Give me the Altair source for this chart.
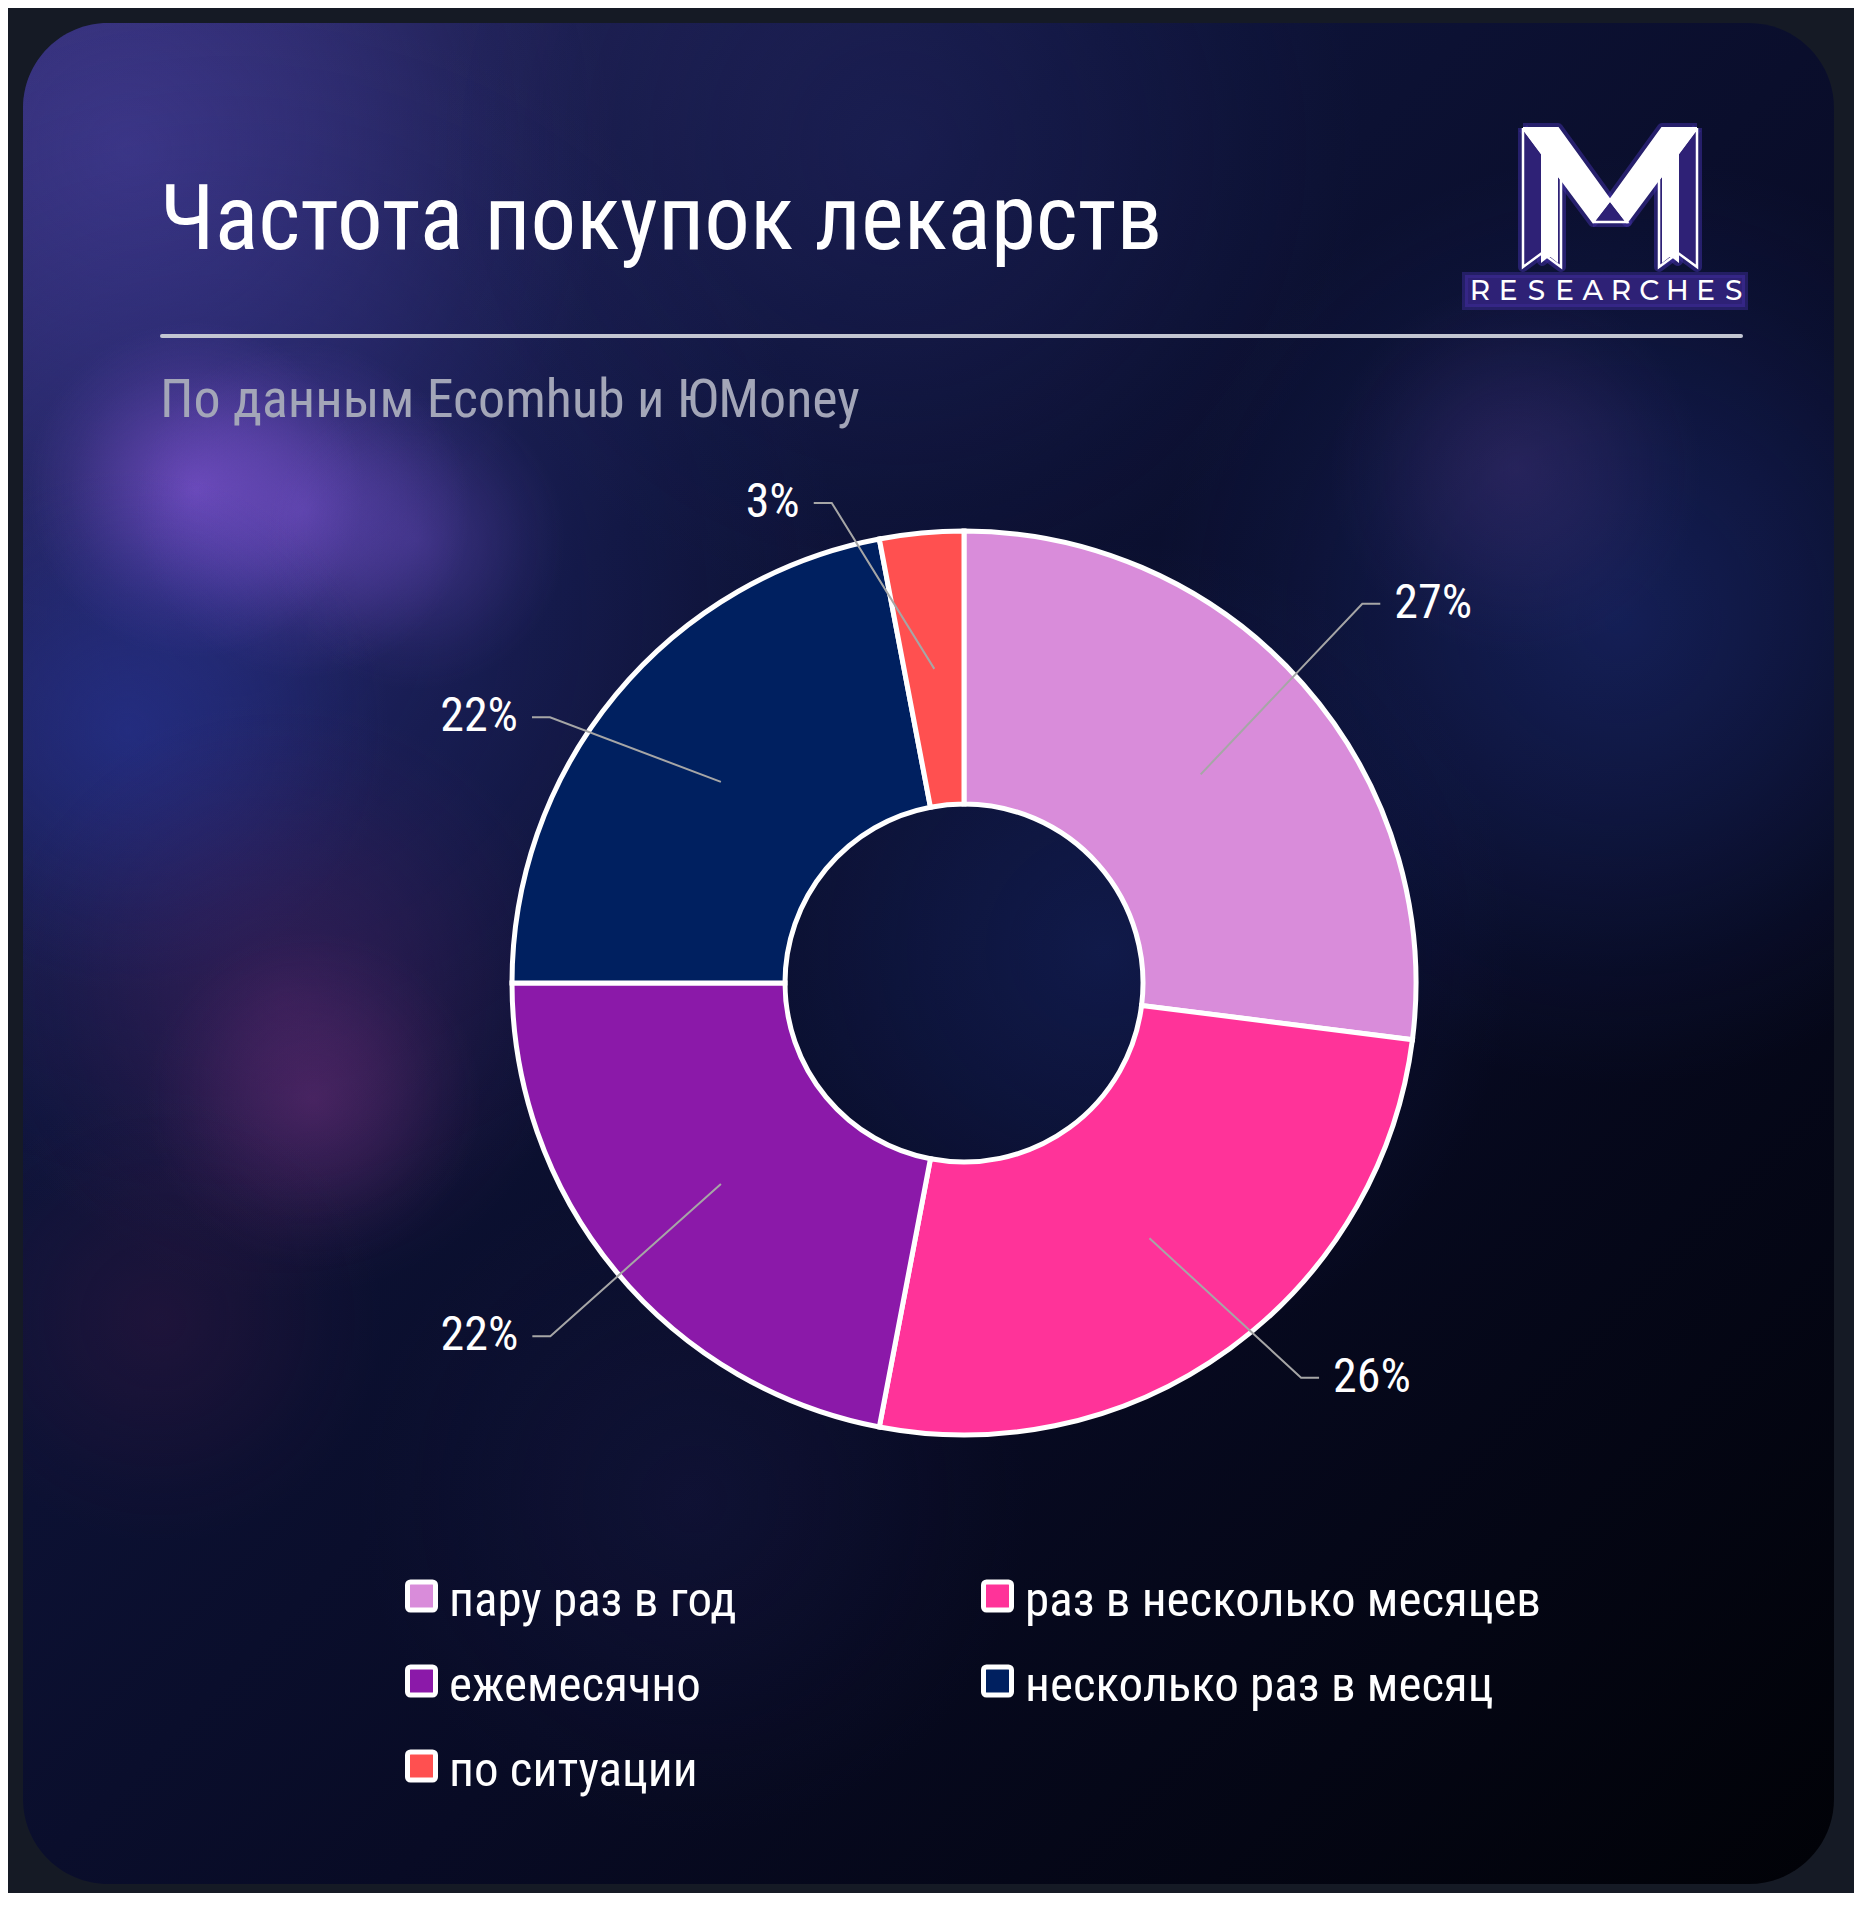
import math
import altair as alt
import pandas as pd

# ---------------- data ----------------
CATEGORIES = ["пару раз в год", "раз в несколько месяцев", "ежемесячно",
              "несколько раз в месяц", "по ситуации"]
VALUES = [27, 26, 22, 22, 3]
COLORS = ["#D98CDA", "#FF3399", "#8B19A9", "#002060", "#FF5050"]
TITLE = "Частота покупок лекарств"
SUBTITLE = "По данным Ecomhub и ЮMoney"
LOGO_WORD = "RESEARCHES"

# ---------------- layout (reference pixel coordinates) ----------------
PAGE_MARGIN = 8
VIEW_W = 1846
VIEW_H = 1885
CARD = (23, 23, 1834, 1884)
CARD_RADIUS = 85
CX, CY = 964, 983
R_OUT, R_IN = 452, 179
R_MID = (R_OUT + R_IN) / 2
# label elbow of each leader line: (radius, angle in degrees clockwise from top)
ELBOWS = [(550, 46.4), (519, 139.5), (544, 229.5), (492, 302.7), (498, 344.6)]
LEADER_TAIL = 18
LABEL_GAP = 14
LEGEND_COLS_X = [405, 981]
LEGEND_ROWS_Y = [1596, 1681, 1766]
LEGEND_BOX = 28
FONT = "'Liberation Sans Narrow', 'Roboto Condensed', 'DejaVu Sans Condensed', Roboto, sans-serif"
LOGO_FONT = "Montserrat, Inter, 'Open Sans', sans-serif"
LOGO_ORIGIN = (1440, 90)
LOGO_POLYS = {
    "left_leg": [(83, 38), (121, 89), (121, 177), (102, 163), (83, 177)],
    "right_leg": [(257, 38), (219, 89), (219, 177), (238, 163), (257, 177)],
    "left_inner": [(102, 64), (117, 84), (117, 171), (109.5, 165), (102, 171)],
    "right_inner": [(238, 64), (223, 84), (223, 171), (230.5, 165), (238, 171)],
    "left_diag": [(83, 38), (118, 38), (170, 110), (153, 132)],
    "right_diag": [(257, 38), (222, 38), (170, 110), (187, 132)],
    "mid_tri": [(153, 132), (187, 132), (170, 110)],
}
LOGO_WHITE = {"left_diag", "right_diag", "left_inner", "right_inner"}
LOGO_PURPLE = "#2E2176"

BLOBS = [  # x, y, radius (fraction of card), rgb, alpha
    (150, 150, 0.26, "80,68,170", 0.55),
    (900, 150, 0.25, "45,45,120", 0.30),
    (250, 620, 0.33, "48,50,140", 0.45),
    (215, 490, 0.09, "132,86,215", 0.70),
    (320, 510, 0.09, "120,82,205", 0.60),
    (430, 540, 0.08, "105,75,190", 0.40),
    (150, 730, 0.14, "40,55,160", 0.50),
    (300, 1000, 0.16, "85,35,100", 0.45),
    (330, 1100, 0.09, "125,52,135", 0.40),
    (1600, 620, 0.25, "35,55,145", 0.45),
    (1500, 470, 0.10, "90,60,140", 0.30),
    (1100, 950, 0.22, "30,50,135", 0.35),
    (180, 1320, 0.12, "70,25,72", 0.30),
    (700, 1500, 0.18, "35,35,92", 0.25),
]

# ---------------- scales ----------------
XS = alt.Scale(domain=[PAGE_MARGIN, PAGE_MARGIN + VIEW_W], range=[0, VIEW_W], nice=False, zero=False)
YS = alt.Scale(domain=[PAGE_MARGIN, PAGE_MARGIN + VIEW_H], range=[0, VIEW_H], nice=False, zero=False)


def ex(f):
    return alt.X(f, scale=XS, axis=None)


def ey(f):
    return alt.Y(f, scale=YS, axis=None)


layers = []

# ---------------- card background ----------------
card_df = pd.DataFrame([{"x0": CARD[0], "y0": CARD[1], "x1": CARD[2], "y1": CARD[3]}])


def card_layer(fill):
    return alt.Chart(card_df).mark_rect(cornerRadius=CARD_RADIUS, fill=fill, strokeWidth=0).encode(
        x=ex("x0:Q"), x2="x1:Q", y=ey("y0:Q"), y2="y1:Q")


base_fill = {"gradient": "linear", "x1": 0, "y1": 0, "x2": 1, "y2": 1,
             "stops": [{"offset": 0, "color": "#282863"},
                       {"offset": 0.3, "color": "#0E143A"},
                       {"offset": 0.6, "color": "#080B25"},
                       {"offset": 1, "color": "#010207"}]}
layers.append(card_layer(base_fill))

cw = CARD[2] - CARD[0]
ch = CARD[3] - CARD[1]
for bx, by, br, rgb, a in BLOBS:
    fx = (bx - CARD[0]) / cw
    fy = (by - CARD[1]) / ch
    layers.append(card_layer({
        "gradient": "radial", "x1": fx, "y1": fy, "r1": 0, "x2": fx, "y2": fy, "r2": br,
        "stops": [{"offset": 0, "color": f"rgba({rgb},{a})"},
                  {"offset": 0.4, "color": f"rgba({rgb},{round(a * 0.6, 3)})"},
                  {"offset": 0.75, "color": f"rgba({rgb},{round(a * 0.2, 3)})"},
                  {"offset": 1, "color": f"rgba({rgb},0)"}]}))

# ---------------- title, rule, subtitle ----------------
title_df = pd.DataFrame([{"x": 160, "y": 249, "t": TITLE}])
layers.append(alt.Chart(title_df).mark_text(
    align="left", baseline="alphabetic", fontSize=91, font=FONT, color="#FFFFFF").encode(
    x=ex("x:Q"), y=ey("y:Q"), text="t:N"))

rule_df = pd.DataFrame([{"x0": 162, "x1": 1741, "y": 336}])
layers.append(alt.Chart(rule_df).mark_rule(strokeWidth=4, strokeCap="round", color="#C3C6D2").encode(
    x=ex("x0:Q"), x2="x1:Q", y=ey("y:Q")))

sub_df = pd.DataFrame([{"x": 160, "y": 417, "t": SUBTITLE}])
layers.append(alt.Chart(sub_df).mark_text(
    align="left", baseline="alphabetic", fontSize=54, font=FONT, color="#A3A6B8").encode(
    x=ex("x:Q"), y=ey("y:Q"), text="t:N"))

# ---------------- logo ----------------
band_df = pd.DataFrame([{"x0": 1465, "x1": 1745, "y0": 275, "y1": 307}])
layers.append(alt.Chart(band_df).mark_rect(fill=LOGO_PURPLE, stroke="#3B2C96", strokeWidth=6,
                                           strokeOpacity=0.5).encode(
    x=ex("x0:Q"), x2="x1:Q", y=ey("y0:Q"), y2="y1:Q"))

poly_rows = []
for name, pts in LOGO_POLYS.items():
    closed = pts + [pts[0]]
    for k, (px, py) in enumerate(closed):
        poly_rows.append({"poly": name, "k": k, "x": LOGO_ORIGIN[0] + px, "y": LOGO_ORIGIN[1] + py,
                          "white": name in LOGO_WHITE})
poly_df = pd.DataFrame(poly_rows)
layers.append(alt.Chart(poly_df).mark_line(stroke="#3E2E9E", strokeWidth=10, strokeOpacity=0.55,
                                           fill=LOGO_PURPLE, strokeJoin="round").encode(
    x=ex("x:Q"), y=ey("y:Q"), detail="poly:N", order="k:Q"))
layers.append(alt.Chart(poly_df).transform_filter("!datum.white").mark_line(
    stroke="#FFFFFF", strokeWidth=2.5, fill=LOGO_PURPLE, strokeJoin="miter").encode(
    x=ex("x:Q"), y=ey("y:Q"), detail="poly:N", order="k:Q"))
layers.append(alt.Chart(poly_df).transform_filter("datum.white").mark_line(
    stroke="#FFFFFF", strokeWidth=2, fill="#FFFFFF", strokeJoin="miter").encode(
    x=ex("x:Q"), y=ey("y:Q"), detail="poly:N", order="k:Q"))

letters_df = pd.DataFrame([{"x": 1480 + 28.2 * i, "y": 292, "t": ch_} for i, ch_ in enumerate(LOGO_WORD)])
layers.append(alt.Chart(letters_df).mark_text(
    align="center", baseline="middle", fontSize=28, fontWeight=500, font=LOGO_FONT, color="#FFFFFF").encode(
    x=ex("x:Q"), y=ey("y:Q"), text="t:N"))

# ---------------- donut ----------------
pie_df = pd.DataFrame({"cat": CATEGORIES, "value": VALUES, "idx": list(range(len(VALUES)))})
color_scale = alt.Scale(domain=CATEGORIES, range=COLORS)
layers.append(alt.Chart(pie_df).mark_arc(radius=R_OUT, radius2=R_IN, stroke="#FFFFFF", strokeWidth=5).encode(
    theta=alt.Theta("value:Q", stack=True),
    order=alt.Order("idx:Q"),
    color=alt.Color("cat:N", scale=color_scale, legend=None),
    x=alt.value(CX - PAGE_MARGIN), y=alt.value(CY - PAGE_MARGIN)))

# ---------------- leader lines and labels ----------------
total = float(sum(VALUES))
lead_rows, label_rows = [], []
cum = 0.0
for i, v in enumerate(VALUES):
    mid = math.radians((cum + v / 2) / total * 360)
    cum += v
    sx, sy = CX + R_MID * math.sin(mid), CY - R_MID * math.cos(mid)
    er, ea = ELBOWS[i]
    ea = math.radians(ea)
    exx, eyy = CX + er * math.sin(ea), CY - er * math.cos(ea)
    side = 1 if exx > CX else -1
    tx = exx + side * LEADER_TAIL
    for k, (px, py) in enumerate([(sx, sy), (exx, eyy), (tx, eyy)]):
        lead_rows.append({"i": i, "k": k, "x": px, "y": py})
    label_rows.append({"x": tx + side * LABEL_GAP, "y": eyy, "t": f"{v}%", "right": side > 0})
lead_df = pd.DataFrame(lead_rows)
lab_df = pd.DataFrame(label_rows)
layers.append(alt.Chart(lead_df).mark_line(color="#A6A6A6", strokeWidth=2).encode(
    x=ex("x:Q"), y=ey("y:Q"), detail="i:N", order="k:Q"))
layers.append(alt.Chart(lab_df).transform_filter("datum.right").mark_text(
    align="left", baseline="middle", fontSize=48, font=FONT, color="#FFFFFF").encode(
    x=ex("x:Q"), y=ey("y:Q"), text="t:N"))
layers.append(alt.Chart(lab_df).transform_filter("!datum.right").mark_text(
    align="right", baseline="middle", fontSize=48, font=FONT, color="#FFFFFF").encode(
    x=ex("x:Q"), y=ey("y:Q"), text="t:N"))

# ---------------- legend ----------------
leg_rows = []
for i, cat in enumerate(CATEGORIES):
    col, row = i % 2, i // 2
    x0 = LEGEND_COLS_X[col]
    yc = LEGEND_ROWS_Y[row]
    leg_rows.append({"cat": cat, "sx0": x0 + 2.5, "sx1": x0 + 2.5 + LEGEND_BOX,
                     "sy0": yc - LEGEND_BOX / 2, "sy1": yc + LEGEND_BOX / 2,
                     "tx": x0 + 44, "ty": yc + 20})
leg_df = pd.DataFrame(leg_rows)
layers.append(alt.Chart(leg_df).mark_rect(stroke="#FFFFFF", strokeWidth=5, cornerRadius=3).encode(
    x=ex("sx0:Q"), x2="sx1:Q", y=ey("sy0:Q"), y2="sy1:Q",
    color=alt.Color("cat:N", scale=color_scale, legend=None)))
layers.append(alt.Chart(leg_df).mark_text(
    align="left", baseline="alphabetic", fontSize=49, font=FONT, color="#FFFFFF").encode(
    x=ex("tx:Q"), y=ey("ty:Q"), text="cat:N"))

chart = alt.layer(*layers).properties(
    width=VIEW_W, height=VIEW_H, padding=0,
    autosize=alt.AutoSizeParams(type="none"),
    background="#151A25",
).configure_view(strokeWidth=0)

chart.save("out.html", embed_options={"renderer": "svg", "actions": False})
